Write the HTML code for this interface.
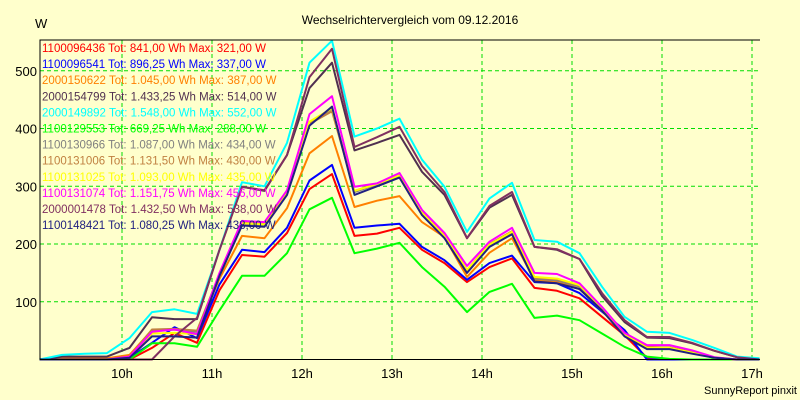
<!DOCTYPE html>
<html><head><meta charset="utf-8"><style>
body{margin:0;background:#ffffcc;}
svg{display:block;font-family:"Liberation Sans",sans-serif;}
</style></head><body>
<svg id="chart" width="800" height="400">
<rect width="800" height="400" fill="#ffffcc"/>
<text x="410" y="24" font-size="12" text-anchor="middle">Wechselrichtervergleich vom 09.12.2016</text>
<text x="35" y="28" font-size="13">W</text>
<text x="797" y="394" font-size="11" text-anchor="end">SunnyReport pinxit</text>
<g id="grid"></g>
<g id="series"></g>
<g id="axes"></g>
<g id="legend"></g>
</svg>
<script>
const yTicks=[100,200,300,400,500];
const xTicks=[10,11,12,13,14,15,16,17];
const xTickLabels=["10h","11h","12h","13h","14h","15h","16h","17h"];
const startHour=9+5/60;
const stepHour=0.25;
const seriesNames=["1100096436","1100096541","2000150622","2000154799","2000149892","1100129553","1100130966","1100131006","1100131025","1100131074","2000001478","1100148421"];
const seriesTot=["841,00","896,25","1.045,00","1.433,25","1.548,00","669,25","1.087,00","1.131,50","1.093,00","1.151,75","1.432,50","1.080,25"];
const seriesMax=["321,00","337,00","387,00","514,00","552,00","288,00","434,00","430,00","435,00","456,00","538,00","438,00"];
const seriesColors=["#ff0000","#0000ff","#ff8000","#503050","#00ffff","#00ff00","#808080","#c08040","#ffff00","#ff00ff","#803060","#202080"];
const sRed=[0,0,0,0,0,20,46,29,120,181,178,219,295,321,214,218,228,190,167,134,160,175,124,119,106,74,42,3,0,0,0,0,0];
const sBlue=[0,0,0,0,3,29,56,37,130,190,186,228,310,337,228,232,235,195,172,138,167,180,134,132,115,83,51,0,0,0,0,0,0];
const sOrange=[0,2,2,2,8,51,52,48,140,214,210,262,357,387,264,275,283,238,212,143,185,210,138,135,122,85,45,22,20,12,3,0,0];
const sDark=[0,5,5,5,20,73,70,70,190,299,292,354,470,514,362,375,389,325,285,210,263,285,195,190,174,110,65,38,37,28,15,4,0];
const sCyan=[0,8,10,11,37,82,87,79,190,307,300,375,514,552,386,400,417,346,299,221,279,306,207,204,184,126,74,48,46,34,20,5,2];
const sGreen=[0,0,0,0,0,28,28,22,85,145,145,184,260,280,184,192,202,160,126,82,117,131,72,76,68,45,22,5,1,0,0,0,0];
const sGray=[0,0,0,0,4,50,52,48,145,235,233,288,410,434,290,303,318,253,213,153,198,220,140,137,126,88,44,20,20,12,3,0,0];
const sBrown=[0,0,0,0,5,52,53,50,148,238,236,290,408,430,292,305,320,255,215,155,200,222,142,139,128,90,45,21,21,13,3,0,0];
const sYellow=[0,0,0,0,4,45,46,44,146,236,234,289,412,435,292,304,319,254,214,155,199,221,143,140,129,89,44,20,20,12,3,0,0];
const sMagenta=[0,0,0,0,5,48,52,44,150,240,238,293,425,456,299,305,323,259,219,162,204,228,150,148,132,91,46,25,25,16,4,0,0];
const sPurple=[0,0,0,0,0,0,40,72,190,299,293,354,489,538,368,385,403,335,290,210,266,290,195,191,174,115,68,39,39,29,15,4,0];
const sNavy=[0,0,0,0,3,40,40,38,145,232,230,285,405,438,285,300,315,250,210,150,195,217,135,132,122,85,40,18,18,10,3,0,0];
const seriesData=[sRed,sBlue,sOrange,sDark,sCyan,sGreen,sGray,sBrown,sYellow,sMagenta,sPurple,sNavy];
const NS="http://www.w3.org/2000/svg";
const L=40,R=760,T=40,B=359.5;
function xScale(h){return 122+(h-10)*90;}
function yScale(v){return B-v*0.5775;}
function mk(tag,attrs,parent){const e=document.createElementNS(NS,tag);for(const k in attrs)e.setAttribute(k,attrs[k]);parent.appendChild(e);return e;}
const grid=document.getElementById('grid'),axes=document.getElementById('axes'),ser=document.getElementById('series'),leg=document.getElementById('legend');
yTicks.forEach(v=>{const y=yScale(v);
 const g=mk('line',{x1:L,x2:R,y1:y,y2:y,stroke:'#00dd00','stroke-dasharray':'4,3'},grid);
 
 
 const t=mk('text',{x:37,y:y+5,'font-size':13,'text-anchor':'end'},axes);t.textContent=v;
 
 
});
xTicks.forEach((h,i)=>{const x=xScale(h);
 const g=mk('line',{x1:x,x2:x,y1:T,y2:B,stroke:'#00dd00','stroke-dasharray':'4,3'},grid);
 
 
 const t=mk('text',{x:x,y:378,'font-size':13,'text-anchor':'middle'},axes);t.textContent=xTickLabels[i];
 
 
});
const ax=mk('path',{d:`M${R} ${T}H${L}V${B}H${R}`,fill:'none',stroke:'#000','stroke-width':1},axes);


seriesData.forEach((arr,i)=>{
 const pts=arr.map((v,k)=>xScale(startHour+k*stepHour).toFixed(1)+','+yScale(v).toFixed(1)).join(' ');
 const p=mk('polyline',{points:pts,fill:'none',stroke:seriesColors[i],'stroke-width':2,'stroke-linejoin':'round'},ser);
 
 
});
seriesNames.forEach((n,i)=>{
 const t=mk('text',{x:42,y:52+i*16.1,'font-size':11.5,fill:seriesColors[i]},leg);
 t.textContent=n+' Tot: '+seriesTot[i]+' Wh Max: '+seriesMax[i]+' W';
 
 
});
</script>
</body></html>
